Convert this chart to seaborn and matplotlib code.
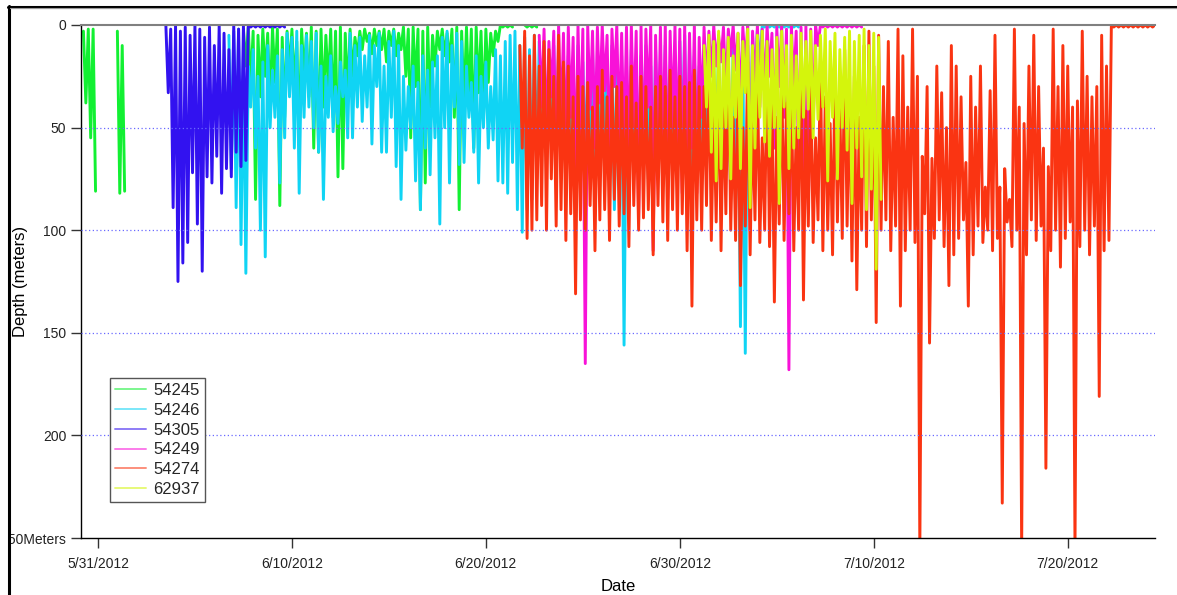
import pandas as pd
import matplotlib
matplotlib.use("Agg")
import matplotlib.pyplot as plt
import seaborn as sns
from matplotlib.lines import Line2D
from matplotlib.patches import Rectangle

# tag ids and colours, in drawing / legend order
tags = ["54245", "54246", "54305", "54249", "54274", "62937"]
colors = ["#12f032", "#10d4f4", "#3212f0", "#f812d8", "#fa3412", "#d4f50c"]

# each series: shallowest and deepest depth (m) in consecutive 6 h bins
green_start_1 = "2012-05-30 06:00"
green_top_1 = [3, 2, 2, None, None, None, None, 3, 10]
green_bot_1 = [38, 55, 81, None, None, None, None, 82, 81]

green_start_2 = "2012-06-07 12:00"
green_top_2 = [2, 1, 3, 5, 2, 4, 1, 2, 6, 3,
               2, 8, 2, 4, 1, 3, 2, 5, 2, 3,
               1, 4, 2, 6, 3, 2, 4, 2, 3, 2,
               3, 2, 4, 1, 2, 1, 2, 3, 1, 5,
               3, 2, 4, 2, 1, 3, 1, 2, 1, 3,
               2, 4, 3, 0, 0, 0, None, None, 0, 0, 0]
green_bot_2 = [20, 30, 85, 35, 25, 40, 28, 88, 45, 22,
               30, 55, 25, 35, 60, 62, 40, 30, 45, 74,
               70, 35, 25, 15, 12, 8, 14, 10, 12, 18,
               10, 15, 12, 25, 55, 30, 90, 77, 40, 20,
               12, 15, 18, 45, 90, 40, 35, 60, 33, 45,
               28, 15, 8, 1, 1, 1, None, None, 1, 1, 1]

cyan_start = "2012-06-06 18:00"
cyan_top = [5, 3, 2, 15, 20, 12, 25, 18, 10, 22,
            15, 12, 4, 6, 3, 10, 5, 8, 4, 20,
            25, 15, 30, 18, 22, 4, 10, 6, 15, 5,
            10, 4, 20, 8, 3, 10, 25, 30, 20, 28,
            15, 22, 18, 15, 6, 3, 10, 4, 8, 20,
            28, 15, 25, 18, 30, 12, 15, 8, 5, 3,
            10, 6, 12, 5, 8, 10, 15, 10, 12, 20,
            15, 25, 10, 18, 20, 12, 25, 15, 20, 10,
            22, 15, 20, 12, 25, 15, 10, 20, 12, 18,
            10, 22, 15, 8, 5, 10, 15, 20, 10, 15,
            20, 10, 25, 15, 10, 20, 15, 10, 5, 3,
            0, 0, 0, 0, 0, 0, 0, 0]
cyan_bot = [70, 89, 107, 121, 40, 60, 100, 113, 50, 45,
            77, 55, 35, 60, 82, 45, 40, 50, 62, 85,
            45, 52, 48, 35, 55, 55, 40, 47, 40, 58,
            30, 62, 62, 45, 69, 85, 61, 50, 76, 90,
            60, 73, 55, 97, 50, 77, 40, 68, 67, 45,
            62, 77, 50, 60, 56, 76, 77, 82, 67, 90,
            101, 90, 85, 75, 60, 70, 55, 65, 71, 60,
            75, 80, 60, 70, 65, 80, 70, 60, 75, 90,
            70, 156, 80, 65, 70, 60, 75, 85, 70, 60,
            80, 65, 72, 60, 87, 75, 58, 70, 60, 80,
            65, 75, 70, 85, 90, 147, 160, 70, 40, 20,
            1, 1, 1, 1, 1, 1, 1, 1]

blue_start = "2012-06-03 12:00"
blue_top = [0, 2, 0, 3, 1, 5, 0, 2, 6, 1, 10, 0, 4, 12, 0, 2, 0,
            0, 0, 0, 0, 0, 0, 0, 0]
blue_bot = [33, 89, 125, 116, 106, 72, 97, 120, 74, 77, 64, 82, 70, 74, 62, 69, 66,
            1, 1, 1, 1, 1, 1, 1, 1]

magenta_start = "2012-06-22 18:00"
magenta_top = [5, 2, 8, 3, 0, 4, 1, 6, 0, 2,
               0, 3, 1, 0, 5, 2, 0, 4, 1, 0,
               3, 0, 2, 0, 5, 1, 0, 3, 0, 2,
               0, 4, 0, 6, 1, 3, 0, 5, 1, 2,
               0, 4, 1, 0, 3, 0, 2, 0, 4, 1,
               0, 2, 0, 3, 1, 0, 2, 0,
               0, 0, 0, 0, 0, 0, 0, 0, 0]
magenta_bot = [40, 60, 35, 70, 50, 65, 45, 80, 55, 165,
               41, 60, 38, 32, 70, 30, 55, 61, 75, 50,
               95, 74, 40, 110, 60, 67, 85, 50, 67, 82,
               75, 60, 82, 45, 30, 25, 20, 18, 33, 15,
               22, 40, 20, 100, 30, 40, 35, 25, 60, 30,
               45, 168, 30, 70, 84, 90, 50, 10,
               1, 1, 1, 1, 1, 1, 1, 1, 1]

red_start = "2012-06-21 18:00"
red_top = [10, 3, 15, 5, 20, 8, 12, 25, 5, 18,
           20, 35, 25, 30, 28, 40, 30, 22, 35, 25,
           30, 28, 35, 20, 38, 25, 30, 40, 30, 25,
           30, 22, 35, 25, 30, 28, 22, 30, 30, 15,
           40, 20, 35, 12, 45, 25, 50, 18, 40, 22,
           55, 15, 35, 45, 20, 38, 28, 50, 15, 42,
           25, 55, 18, 35, 48, 20, 40, 12, 30, 25,
           45, 10, 3, 20, 5, 30, 8, 45, 2, 15,
           40, 2, 25, 64, 30, 65, 20, 33, 50, 10,
           20, 35, 67, 25, 40, 20, 79, 32, 5, 79,
           70, 85, 2, 40, 48, 20, 5, 30, 60, 69,
           2, 30, 10, 20, 40, 37, 3, 25, 35, 30, 5, 20,
           0, 0, 0, 0, 0, 0, 0, 0, 0, 0]
red_bot = [60, 104, 100, 95, 88, 100, 75, 98, 90, 105,
           92, 131, 95, 100, 88, 110, 95, 90, 105, 85,
           98, 92, 108, 88, 100, 94, 90, 112, 88, 96,
           105, 90, 100, 92, 110, 137, 95, 100, 88, 105,
           96, 110, 92, 100, 105, 127, 98, 112, 95, 106,
           100, 108, 135, 97, 105, 92, 110, 100, 134, 98,
           106, 95, 110, 100, 112, 96, 104, 98, 115, 129,
           100, 108, 95, 145, 100, 95, 110, 98, 137, 110,
           100, 106, 255, 92, 155, 104, 95, 108, 127, 112,
           104, 95, 137, 112, 98, 106, 100, 110, 104, 233,
           96, 108, 100, 255, 112, 95, 105, 98, 216, 110,
           100, 118, 104, 96, 255, 108, 100, 112, 98, 181, 110, 105,
           1, 1, 1, 1, 1, 1, 1, 1, 1, 1]

yellow_start = "2012-07-01 06:00"
yellow_top = [10, 5, 8, 3, 12, 6, 15, 4, 8, 2,
              10, 5, 3, 8, 12, 6, 3, 10, 5, 15,
              4, 8, 3, 10, 5, 2, 8, 4, 12, 6,
              3, 8, 5, 2, 10, 4, 6]
yellow_bot = [40, 62, 76, 70, 50, 75, 45, 70, 33, 89,
              60, 45, 57, 64, 50, 87, 40, 70, 60, 55,
              45, 41, 55, 46, 40, 76, 45, 75, 50, 61,
              87, 60, 74, 90, 80, 119, 85]

date_ticks = ["2012-05-31", "2012-06-10", "2012-06-20", "2012-06-30", "2012-07-10", "2012-07-20"]
date_labels = ["5/31/2012", "6/10/2012", "6/20/2012", "6/30/2012", "7/10/2012", "7/20/2012"]
depth_ticks = [0, 50, 100, 150, 200, 250]
depth_labels = ["0", "50", "100", "150", "200", "250Meters"]
grid_depths = [50, 100, 150, 200]


def expand(tag, start, tops, bots, seg):
    # one dive per bin: surface value at the bin start, deepest value mid-bin
    rows = []
    times = pd.date_range(start, periods=len(tops), freq="6h")
    for t, a, b in zip(times, tops, bots):
        if a is None:
            seg += 1
            continue
        rows.append((t, a, tag, seg))
        rows.append((t + pd.Timedelta(hours=3), b, tag, seg))
    return rows, seg + 1


series = [
    ("54245", green_start_1, green_top_1, green_bot_1),
    ("54245", green_start_2, green_top_2, green_bot_2),
    ("54246", cyan_start, cyan_top, cyan_bot),
    ("54305", blue_start, blue_top, blue_bot),
    ("54249", magenta_start, magenta_top, magenta_bot),
    ("54274", red_start, red_top, red_bot),
    ("62937", yellow_start, yellow_top, yellow_bot),
]
rows = []
seg = 0
for tag, start, tops, bots in series:
    r, seg = expand(tag, start, tops, bots, seg)
    rows += r
df = pd.DataFrame(rows, columns=["time", "depth", "tag", "seg"])

sns.set_style("white")
plt.rcParams["font.family"] = ["Liberation Sans", "DejaVu Sans"]

fig = plt.figure(figsize=(11.77, 5.95), dpi=100)
ax = fig.add_axes([81 / 1177, 57 / 595, 1074 / 1177, 513 / 595])

sns.lineplot(data=df, x="time", y="depth", hue="tag", hue_order=tags,
             palette=dict(zip(tags, colors)), units="seg", estimator=None,
             sort=False, linewidth=2.1, legend=False, ax=ax)

ax.set_ylim(250, 0)
ax.set_xlim(pd.Timestamp("2012-05-30 03:00"), pd.Timestamp("2012-07-24 12:00"))

for d in grid_depths:
    ax.axhline(d, color="#6a6aff", linestyle=(0, (1, 2)), linewidth=0.9, zorder=3)

ax.set_yticks(depth_ticks)
ax.set_yticklabels(depth_labels)
ax.set_xticks(pd.to_datetime(date_ticks))
ax.set_xticklabels(date_labels)
ax.tick_params(axis="y", direction="out", length=7, width=1, color="#333333",
               labelsize=10, labelcolor="#222222", pad=3.5, left=True)
ax.tick_params(axis="x", direction="out", length=7, width=1, color="#333333",
               labelsize=10, labelcolor="#222222", pad=7, bottom=True)

for s in ["left", "bottom"]:
    ax.spines[s].set_color("black")
    ax.spines[s].set_linewidth(1)
ax.spines["right"].set_visible(False)
ax.spines["top"].set_color("#808080")
ax.spines["top"].set_linewidth(1.5)
ax.spines["top"].set_zorder(4)

ax.set_xlabel("Date", fontsize=12, color="black")
ax.set_ylabel("Depth (meters)", fontsize=12, color="black")
ax.xaxis.set_label_coords(0.5, -0.08)
ax.yaxis.set_label_coords(-0.0493, 0.5)

handles = [Line2D([], [], color=c, lw=1.4, alpha=0.55) for c in colors]
leg = ax.legend(handles, tags, loc="upper left", bbox_to_anchor=(0.027, 0.312),
                borderaxespad=0, frameon=True, fancybox=False, framealpha=1,
                edgecolor="#555555", fontsize=12, handlelength=1.85,
                handletextpad=0.45, labelspacing=0.29, borderpad=0.3)
leg.get_frame().set_linewidth(1)

# page frame of the screenshot
fig.add_artist(Rectangle((0, 0), 7.5 / 1177, 1, transform=fig.transFigure,
                         facecolor="white", edgecolor="none", zorder=10))
fig.add_artist(Line2D([8.5 / 1177, 8.5 / 1177], [0, 589 / 595], transform=fig.transFigure,
                      color="black", lw=2.2, zorder=11))
fig.add_artist(Line2D([7.5 / 1177, 1], [588.5 / 595, 588.5 / 595], transform=fig.transFigure,
                      color="black", lw=2.2, zorder=11))
fig.add_artist(Line2D([10 / 1177, 1], [586.7 / 595, 586.7 / 595], transform=fig.transFigure,
                      color="#9a9a9a", lw=0.8, zorder=11))

fig.savefig("out.png", dpi=100)
